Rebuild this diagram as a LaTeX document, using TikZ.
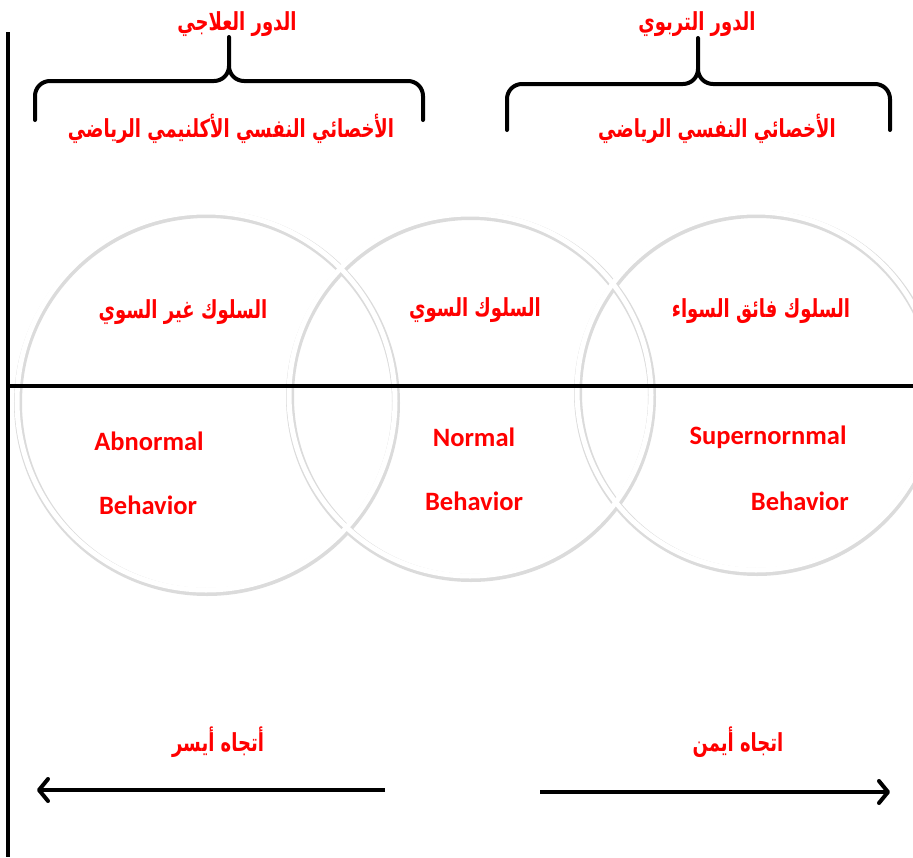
\documentclass[tikz,border=0pt]{standalone}
\usepackage{fontspec}
\setmainfont{Carlito}
\newfontfamily\arabicfont[Script=Arabic]{DejaVu Sans}
\TeXXeTstate=1
\usetikzlibrary{arrows.meta}
\definecolor{labred}{RGB}{255,0,0}
\newcommand{\artxt}[1]{\scalebox{1}[1.38]{\beginR #1\endR}}
\tikzset{
  artext/.style={text=labred, font=\arabicfont\bfseries\fontsize{18}{22}\selectfont, inner sep=0pt},
  entext/.style={text=labred, font=\bfseries\fontsize{26.5}{30}\selectfont, inner sep=0pt},
  axisline/.style={line width=4pt, black},
  bracepath/.style={line width=4pt, black, line cap=round, line join=round},
  ringshadow/.style={draw=black!14, line width=8pt},
  ring/.style={draw=white, line width=5pt},
  dirarrow/.style={line width=4pt, black, -{Straight Barb[length=9pt, width=22pt, line cap=round, line join=round]}}
}
\begin{document}
\begin{tikzpicture}[x=1pt, y=-1pt]
\useasboundingbox (0,0) rectangle (913,857);
\begin{scope}
\clip (0,0) rectangle (913,857);
% circles
\foreach \cx/\cy/\r in {206/401/189, 470/395/181, 756/391/179}{
  \draw[ringshadow] (\cx+1,\cy+2) circle[radius=\r];
}
\foreach \cx/\cy/\r in {206/401/189, 470/395/181, 756/391/179}{
  \draw[ring] (\cx,\cy) circle[radius=\r];
}
\end{scope}
% axes
\coordinate (vtop) at (8,32);
\coordinate (vbot) at (8,857);
\coordinate (hl) at (8,386);
\coordinate (hr) at (913,386);
\draw[axisline] (vtop) -- (vbot);
\draw[axisline] (hl) -- (hr);
% left brace
\draw[bracepath] (35,120) -- (35,96) to[out=90,in=180] (50,81) -- (214,81) to[out=0,in=-90] (229,66) -- (229,37);
\draw[bracepath] (229,66) to[out=-90,in=180] (244,81) -- (408,81) to[out=0,in=90] (423,96) -- (423,120);
% right brace
\draw[bracepath] (507,130) -- (507,99) to[out=90,in=180] (522,84) -- (683,84) to[out=0,in=-90] (698,69) -- (698,38);
\draw[bracepath] (698,69) to[out=-90,in=180] (713,84) -- (875,84) to[out=0,in=90] (890,99) -- (890,130);
% top texts
\node[artext] (roleL) at (237,24) {\artxt{الدور العلاجي}};
\node[artext] (specL) at (231,129) {\artxt{الأخصائي النفسي الأكلنيمي الرياضي}};
\node[artext] (roleR) at (697,24) {\artxt{الدور التربوي}};
\node[artext] (specR) at (717,129) {\artxt{الأخصائي النفسي الرياضي}};
% circle texts
\node[artext] (arA) at (183,312) {\artxt{السلوك غير السوي}};
\node[artext] (arN) at (475,310) {\artxt{السلوك السوي}};
\node[artext] (arS) at (761,311) {\artxt{السلوك فائق السواء}};
\node[entext] (enA1) at (149,441) {Abnormal};
\node[entext] (enA2) at (148,505) {Behavior};
\node[entext] (enN1) at (474,437) {Normal};
\node[entext] (enN2) at (474,501) {Behavior};
\node[entext] (enS1) at (768,437) {Supernornmal};
\node[entext, anchor=east] (enS2) at (849,501) {Behavior};
% bottom
\node[artext] (dirL) at (218,742) {\artxt{أتجاه أيسر}};
\node[artext] (dirR) at (738,742) {\artxt{اتجاه أيمن}};
\coordinate (aLs) at (385,790);
\coordinate (aLe) at (37,790);
\coordinate (aRs) at (540,792);
\coordinate (aRe) at (890,792);
\draw[dirarrow] (aLs) -- (aLe);
\draw[dirarrow] (aRs) -- (aRe);
\end{tikzpicture}
\end{document}
